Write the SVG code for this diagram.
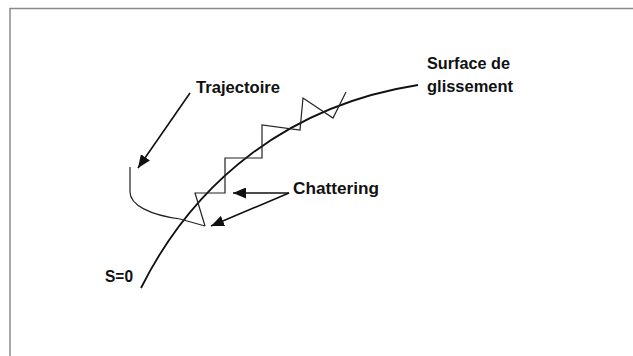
<svg xmlns="http://www.w3.org/2000/svg" width="633" height="356" viewBox="0 0 633 356">
<style>
.lbl{font-family:"Liberation Sans",Arial,sans-serif;font-weight:bold;font-size:16.5px;fill:#111}
.arr{stroke:#111;stroke-width:1.6;fill:none}
</style>
<defs>
<marker id="ah" markerWidth="13" markerHeight="11" refX="13" refY="5.5" orient="auto" markerUnits="userSpaceOnUse">
<path d="M0,0 L13,5.5 L0,11 Z" fill="#111"/>
</marker>
</defs>
<rect width="633" height="356" fill="#fff"/>
<path d="M10,356 L10,8.5 L633,8.5" fill="none" stroke="#8a8a8a" stroke-width="1.5"/>
<g id="surface">
<path d="M141,288 C195,180 290,105 418,85" fill="none" stroke="#111" stroke-width="1.8"/>
<text class="lbl" x="427" y="69" textLength="83" lengthAdjust="spacingAndGlyphs">Surface de</text>
<text class="lbl" x="427" y="92" textLength="86" lengthAdjust="spacingAndGlyphs">glissement</text>
<text class="lbl" x="105" y="282" textLength="28" lengthAdjust="spacingAndGlyphs">S=0</text>
</g>
<g id="trajectoire">
<path d="M130,167 L130,192 C130,205 150,215 180,219 L205,226" fill="none" stroke="#222" stroke-width="1.2"/>
<path d="M205,226 L195,193 L225,193 L225,158 L262,158 L262,125 L300,130 L303,98 L333,118 L346,92" fill="none" stroke="#222" stroke-width="1.2" stroke-linejoin="miter"/>
<text class="lbl" x="196" y="93" textLength="84" lengthAdjust="spacingAndGlyphs">Trajectoire</text>
</g>
<g id="chattering">
<text class="lbl" x="293" y="194" textLength="86" lengthAdjust="spacingAndGlyphs">Chattering</text>
</g>
<g id="connectors">
<line class="arr" x1="190" y1="93" x2="138" y2="168" marker-end="url(#ah)"/>
<line class="arr" x1="289" y1="193" x2="233" y2="193" marker-end="url(#ah)"/>
<line class="arr" x1="289" y1="193" x2="211" y2="226" marker-end="url(#ah)"/>
</g>
</svg>
